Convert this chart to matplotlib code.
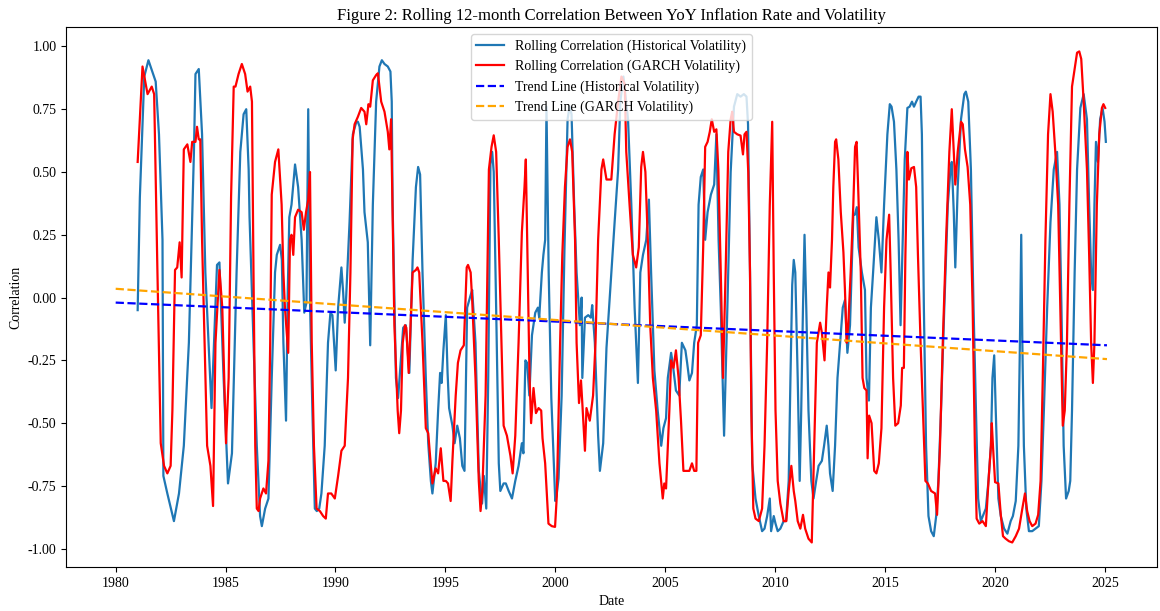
# -*- coding: utf-8 -*-
"""Rolling 12-month correlation between YoY inflation and volatility."""
import matplotlib
matplotlib.use('Agg')
import matplotlib.pyplot as plt

plt.rcParams['font.family'] = ['Liberation Serif', 'DejaVu Serif']

# rolling correlation, historical volatility (decimal year, value)
hist_years = [
    1981.00, 1981.10, 1981.30, 1981.49, 1981.82, 1981.97, 1982.13, 1982.17, 1982.35, 1982.65,
    1982.88, 1983.10, 1983.33, 1983.56, 1983.63, 1983.78, 1983.93, 1984.08, 1984.36, 1984.61,
    1984.72, 1984.91, 1985.11, 1985.29, 1985.50, 1985.67, 1985.82, 1985.94, 1986.05, 1986.09,
    1986.27, 1986.42, 1986.57, 1986.65, 1986.80, 1986.95, 1987.10, 1987.25, 1987.33, 1987.48,
    1987.56, 1987.63, 1987.75, 1987.83, 1987.90, 1988.00, 1988.16, 1988.30, 1988.46, 1988.58,
    1988.68, 1988.76, 1988.84, 1988.95, 1989.06, 1989.15, 1989.26, 1989.36, 1989.51, 1989.66,
    1989.77, 1989.86, 1990.01, 1990.12, 1990.27, 1990.35, 1990.42, 1990.49, 1990.64, 1990.79,
    1990.95, 1991.02, 1991.10, 1991.25, 1991.32, 1991.47, 1991.58, 1991.70, 1991.85, 1992.00,
    1992.11, 1992.23, 1992.38, 1992.50, 1992.56, 1992.60, 1992.75, 1992.85, 1993.08, 1993.20,
    1993.36, 1993.51, 1993.66, 1993.76, 1993.85, 1993.96, 1994.11, 1994.22, 1994.34, 1994.41,
    1994.56, 1994.67, 1994.76, 1994.83, 1994.91, 1995.02, 1995.10, 1995.17, 1995.32, 1995.42,
    1995.54, 1995.66, 1995.77, 1995.87, 1995.99, 1996.15, 1996.22, 1996.37, 1996.52, 1996.67,
    1996.75, 1996.86, 1996.95, 1997.05, 1997.13, 1997.20, 1997.31, 1997.43, 1997.50, 1997.65,
    1997.75, 1997.88, 1998.03, 1998.18, 1998.33, 1998.48, 1998.55, 1998.64, 1998.72, 1998.82,
    1998.94, 1999.09, 1999.21, 1999.27, 1999.39, 1999.46, 1999.54, 1999.60, 1999.70, 1999.82,
    2000.00, 2000.07, 2000.15, 2000.29, 2000.42, 2000.56, 2000.65, 2000.74, 2000.86, 2000.97,
    2001.12, 2001.20, 2001.23, 2001.35, 2001.50, 2001.62, 2001.68, 2001.80, 2001.95, 2002.03,
    2002.18, 2002.33, 2002.55, 2002.70, 2002.86, 2002.96, 2003.10, 2003.31, 2003.46, 2003.61,
    2003.76, 2003.87, 2003.99, 2004.14, 2004.26, 2004.36, 2004.51, 2004.66, 2004.82, 2004.92,
    2005.04, 2005.12, 2005.27, 2005.34, 2005.49, 2005.64, 2005.76, 2005.92, 2006.00, 2006.10,
    2006.22, 2006.32, 2006.44, 2006.52, 2006.62, 2006.73, 2006.82, 2006.93, 2007.08, 2007.23,
    2007.33, 2007.43, 2007.53, 2007.68, 2007.83, 2007.98, 2008.13, 2008.28, 2008.43, 2008.58,
    2008.70, 2008.77, 2008.86, 2008.96, 2009.11, 2009.26, 2009.41, 2009.52, 2009.64, 2009.76,
    2009.82, 2009.94, 2010.02, 2010.12, 2010.24, 2010.39, 2010.50, 2010.62, 2010.70, 2010.78,
    2010.85, 2010.92, 2011.03, 2011.12, 2011.19, 2011.27, 2011.34, 2011.42, 2011.52, 2011.65,
    2011.75, 2011.87, 2011.98, 2012.13, 2012.23, 2012.35, 2012.43, 2012.50, 2012.62, 2012.73,
    2012.84, 2012.96, 2013.08, 2013.18, 2013.29, 2013.41, 2013.48, 2013.56, 2013.63, 2013.72,
    2013.80, 2013.95, 2014.09, 2014.16, 2014.27, 2014.36, 2014.46, 2014.61, 2014.72, 2014.84,
    2014.96, 2015.11, 2015.22, 2015.30, 2015.41, 2015.52, 2015.62, 2015.71, 2015.80, 2015.90,
    2016.02, 2016.12, 2016.23, 2016.32, 2016.42, 2016.53, 2016.62, 2016.68, 2016.77, 2016.87,
    2016.98, 2017.10, 2017.22, 2017.33, 2017.43, 2017.55, 2017.70, 2017.86, 2017.98, 2018.04,
    2018.13, 2018.20, 2018.31, 2018.46, 2018.61, 2018.68, 2018.79, 2018.91, 2019.03, 2019.14,
    2019.24, 2019.36, 2019.59, 2019.71, 2019.82, 2019.89, 2019.97, 2020.04, 2020.16, 2020.27,
    2020.42, 2020.57, 2020.72, 2020.82, 2020.95, 2021.07, 2021.14, 2021.20, 2021.25, 2021.32,
    2021.43, 2021.55, 2021.70, 2021.85, 2022.00, 2022.12, 2022.23, 2022.38, 2022.53, 2022.68,
    2022.83, 2022.94, 2023.03, 2023.13, 2023.24, 2023.36, 2023.43, 2023.51, 2023.63, 2023.74,
    2023.89, 2024.04, 2024.19, 2024.29, 2024.38, 2024.46, 2024.53, 2024.60, 2024.69, 2024.79,
    2024.90, 2024.99, 2025.05,
]
hist_corr = [
    -0.05, 0.40, 0.88, 0.945, 0.86, 0.65, 0.23, -0.71, -0.78, -0.89,
    -0.78, -0.59, -0.18, 0.58, 0.89, 0.91, 0.65, 0.10, -0.44, 0.13,
    0.14, -0.32, -0.74, -0.62, 0.10, 0.58, 0.73, 0.75, 0.51, 0.32,
    -0.18, -0.59, -0.87, -0.91, -0.84, -0.80, -0.32, 0.10, 0.17, 0.21,
    0.15, -0.18, -0.49, 0.03, 0.32, 0.37, 0.53, 0.44, 0.23, -0.06,
    -0.02, 0.75, -0.01, -0.45, -0.84, -0.85, -0.84, -0.78, -0.59, -0.18,
    -0.06, -0.07, -0.29, -0.04, 0.12, 0.02, -0.10, 0.01, 0.30, 0.65,
    0.70, 0.70, 0.68, 0.51, 0.34, 0.22, -0.19, 0.37, 0.78, 0.92,
    0.945, 0.93, 0.92, 0.90, 0.78, 0.37, -0.32, -0.40, -0.12, -0.11,
    -0.30, 0.15, 0.44, 0.52, 0.49, 0.10, -0.32, -0.58, -0.73, -0.78,
    -0.66, -0.45, -0.30, -0.34, -0.21, -0.07, -0.30, -0.44, -0.51, -0.58,
    -0.51, -0.56, -0.67, -0.69, -0.04, 0.01, 0.03, -0.18, -0.69, -0.82,
    -0.71, -0.84, -0.32, 0.53, 0.58, 0.50, -0.04, -0.66, -0.77, -0.74,
    -0.74, -0.77, -0.80, -0.73, -0.67, -0.58, -0.62, -0.25, -0.26, -0.39,
    -0.15, -0.06, -0.04, -0.08, 0.10, 0.17, 0.23, 0.76, 0.10, -0.40,
    -0.81, -0.78, -0.72, -0.39, 0.20, 0.71, 0.76, 0.73, 0.37, 0.10,
    -0.11, 0.00, -0.32, -0.08, -0.07, -0.08, -0.03, -0.18, -0.55, -0.69,
    -0.58, -0.20, 0.10, 0.30, 0.51, 0.78, 0.88, 0.71, 0.37, -0.04,
    -0.34, 0.10, 0.17, 0.23, 0.39, 0.10, -0.29, -0.45, -0.59, -0.52,
    -0.48, -0.32, -0.22, -0.26, -0.37, -0.39, -0.18, -0.21, -0.26, -0.33,
    -0.30, -0.18, -0.11, 0.37, 0.48, 0.51, 0.23, 0.34, 0.41, 0.45,
    0.65, 0.23, -0.04, -0.55, -0.04, 0.50, 0.76, 0.81, 0.80, 0.81,
    0.80, 0.69, 0.10, -0.66, -0.80, -0.87, -0.93, -0.92, -0.87, -0.80,
    -0.93, -0.87, -0.90, -0.93, -0.92, -0.89, -0.89, -0.73, -0.32, 0.05,
    0.15, 0.10, -0.32, -0.73, -0.45, -0.04, 0.25, -0.04, -0.45, -0.73,
    -0.80, -0.73, -0.67, -0.65, -0.59, -0.51, -0.59, -0.70, -0.77, -0.59,
    -0.32, -0.18, -0.04, -0.01, -0.22, -0.11, 0.10, 0.33, 0.33, 0.36,
    0.20, 0.10, 0.03, -0.32, -0.41, -0.04, 0.10, 0.32, 0.23, 0.10,
    0.37, 0.65, 0.77, 0.76, 0.70, 0.51, 0.23, -0.11, 0.20, 0.55,
    0.755, 0.76, 0.78, 0.76, 0.78, 0.80, 0.80, 0.65, -0.04, -0.59,
    -0.87, -0.93, -0.95, -0.87, -0.73, -0.45, -0.04, 0.37, 0.51, 0.54,
    0.34, 0.12, 0.44, 0.71, 0.81, 0.82, 0.78, 0.51, -0.04, -0.45,
    -0.80, -0.89, -0.84, -0.73, -0.59, -0.32, -0.23, -0.45, -0.80, -0.87,
    -0.92, -0.94, -0.89, -0.87, -0.81, -0.59, -0.18, 0.25, -0.18, -0.59,
    -0.84, -0.93, -0.93, -0.92, -0.91, -0.73, -0.45, -0.04, 0.30, 0.51,
    0.58, 0.37, -0.04, -0.59, -0.80, -0.77, -0.73, -0.45, 0.10, 0.51,
    0.755, 0.81, 0.71, 0.37, 0.10, 0.03, 0.37, 0.62, 0.54, 0.71,
    0.755, 0.70, 0.62,
]

# rolling correlation, GARCH volatility (decimal year, value)
garch_years = [
    1981.00, 1981.22, 1981.45, 1981.64, 1981.75, 1981.90, 1982.05, 1982.20, 1982.35, 1982.50,
    1982.58, 1982.70, 1982.80, 1982.91, 1983.00, 1983.10, 1983.26, 1983.40, 1983.48, 1983.63,
    1983.70, 1983.78, 1983.85, 1983.93, 1984.16, 1984.31, 1984.43, 1984.54, 1984.72, 1984.85,
    1985.02, 1985.14, 1985.25, 1985.37, 1985.45, 1985.59, 1985.74, 1985.89, 1986.00, 1986.12,
    1986.20, 1986.27, 1986.35, 1986.42, 1986.50, 1986.57, 1986.72, 1986.84, 1986.95, 1987.03,
    1987.10, 1987.25, 1987.40, 1987.55, 1987.63, 1987.70, 1987.85, 1987.93, 1988.00, 1988.08,
    1988.16, 1988.30, 1988.46, 1988.56, 1988.66, 1988.76, 1988.84, 1988.92, 1989.02, 1989.14,
    1989.29, 1989.44, 1989.56, 1989.66, 1989.81, 1989.97, 1990.12, 1990.27, 1990.42, 1990.57,
    1990.68, 1990.78, 1990.87, 1991.02, 1991.17, 1991.32, 1991.40, 1991.50, 1991.58, 1991.70,
    1991.85, 1991.93, 1992.08, 1992.23, 1992.38, 1992.45, 1992.53, 1992.68, 1992.83, 1992.90,
    1992.98, 1993.06, 1993.16, 1993.22, 1993.33, 1993.51, 1993.66, 1993.73, 1993.81, 1993.96,
    1994.11, 1994.22, 1994.34, 1994.41, 1994.56, 1994.67, 1994.79, 1994.91, 1995.02, 1995.12,
    1995.24, 1995.32, 1995.47, 1995.57, 1995.69, 1995.84, 1995.97, 1996.03, 1996.15, 1996.22,
    1996.37, 1996.52, 1996.60, 1996.68, 1996.83, 1996.98, 1997.10, 1997.20, 1997.31, 1997.43,
    1997.55, 1997.65, 1997.80, 1997.96, 1998.06, 1998.18, 1998.33, 1998.48, 1998.60, 1998.66,
    1998.75, 1998.83, 1998.90, 1999.01, 1999.12, 1999.24, 1999.36, 1999.42, 1999.54, 1999.69,
    1999.84, 1999.99, 2000.07, 2000.22, 2000.32, 2000.44, 2000.56, 2000.67, 2000.77, 2000.90,
    2000.97, 2001.08, 2001.17, 2001.23, 2001.35, 2001.42, 2001.57, 2001.72, 2001.83, 2001.95,
    2002.10, 2002.18, 2002.33, 2002.55, 2002.70, 2002.86, 2003.01, 2003.16, 2003.23, 2003.38,
    2003.53, 2003.68, 2003.80, 2003.91, 2003.99, 2004.10, 2004.21, 2004.32, 2004.44, 2004.59,
    2004.74, 2004.89, 2004.96, 2005.04, 2005.19, 2005.27, 2005.38, 2005.49, 2005.61, 2005.72,
    2005.83, 2005.98, 2006.10, 2006.22, 2006.32, 2006.42, 2006.50, 2006.62, 2006.73, 2006.82,
    2006.93, 2007.03, 2007.12, 2007.23, 2007.33, 2007.42, 2007.53, 2007.63, 2007.75, 2007.87,
    2007.98, 2008.05, 2008.13, 2008.28, 2008.43, 2008.54, 2008.61, 2008.70, 2008.78, 2008.86,
    2008.92, 2009.01, 2009.11, 2009.26, 2009.41, 2009.52, 2009.64, 2009.76, 2009.87, 2009.94,
    2010.02, 2010.12, 2010.24, 2010.39, 2010.51, 2010.62, 2010.74, 2010.85, 2010.92, 2011.03,
    2011.15, 2011.27, 2011.37, 2011.52, 2011.67, 2011.78, 2011.90, 2012.05, 2012.13, 2012.25,
    2012.35, 2012.43, 2012.50, 2012.59, 2012.65, 2012.73, 2012.78, 2012.88, 2012.99, 2013.11,
    2013.18, 2013.26, 2013.33, 2013.44, 2013.56, 2013.64, 2013.71, 2013.78, 2013.90, 2013.98,
    2014.06, 2014.16, 2014.21, 2014.28, 2014.39, 2014.51, 2014.61, 2014.72, 2014.84, 2014.96,
    2015.07, 2015.19, 2015.26, 2015.37, 2015.47, 2015.60, 2015.72, 2015.78, 2015.86, 2015.93,
    2016.02, 2016.09, 2016.20, 2016.32, 2016.42, 2016.50, 2016.62, 2016.73, 2016.84, 2016.95,
    2017.10, 2017.28, 2017.37, 2017.50, 2017.63, 2017.78, 2017.93, 2018.04, 2018.13, 2018.20,
    2018.31, 2018.46, 2018.54, 2018.64, 2018.76, 2018.88, 2018.99, 2019.09, 2019.17, 2019.29,
    2019.44, 2019.59, 2019.71, 2019.82, 2019.86, 2019.92, 2020.01, 2020.16, 2020.27, 2020.37,
    2020.49, 2020.64, 2020.79, 2020.95, 2021.10, 2021.25, 2021.37, 2021.47, 2021.58, 2021.70,
    2021.85, 2021.97, 2022.08, 2022.18, 2022.30, 2022.42, 2022.53, 2022.63, 2022.75, 2022.88,
    2022.98, 2023.09, 2023.18, 2023.28, 2023.39, 2023.51, 2023.63, 2023.74, 2023.84, 2023.93,
    2024.04, 2024.19, 2024.29, 2024.38, 2024.46, 2024.53, 2024.64, 2024.75, 2024.87, 2024.94,
    2025.02,
]
garch_corr = [
    0.54, 0.92, 0.81, 0.84, 0.81, 0.10, -0.58, -0.67, -0.70, -0.67,
    -0.45, 0.11, 0.12, 0.22, 0.08, 0.59, 0.61, 0.54, 0.62, 0.62,
    0.68, 0.63, 0.63, 0.23, -0.59, -0.67, -0.83, -0.18, 0.11, -0.04,
    -0.58, -0.32, 0.40, 0.84, 0.84, 0.89, 0.93, 0.89, 0.82, 0.84,
    0.78, 0.10, -0.59, -0.84, -0.85, -0.80, -0.76, -0.78, -0.65, -0.18,
    0.41, 0.54, 0.59, 0.37, 0.10, -0.04, -0.22, 0.23, 0.25, 0.17,
    0.32, 0.35, 0.34, 0.27, 0.34, 0.39, 0.50, -0.18, -0.59, -0.84,
    -0.85, -0.87, -0.88, -0.78, -0.78, -0.80, -0.71, -0.61, -0.59, -0.32,
    0.10, 0.63, 0.69, 0.72, 0.755, 0.74, 0.69, 0.77, 0.76, 0.865,
    0.886, 0.893, 0.78, 0.74, 0.66, 0.59, 0.71, -0.11, -0.45, -0.54,
    -0.45, -0.18, -0.11, -0.12, -0.30, 0.10, 0.11, 0.12, 0.10, -0.18,
    -0.52, -0.54, -0.67, -0.74, -0.68, -0.70, -0.60, -0.73, -0.73, -0.74,
    -0.81, -0.65, -0.39, -0.26, -0.21, -0.19, 0.12, 0.13, 0.10, -0.01,
    -0.32, -0.73, -0.85, -0.77, -0.39, 0.51, 0.60, 0.646, 0.58, 0.23,
    -0.18, -0.51, -0.55, -0.63, -0.70, -0.55, -0.18, 0.26, 0.44, 0.55,
    0.10, -0.32, -0.50, -0.36, -0.46, -0.44, -0.45, -0.56, -0.66, -0.90,
    -0.91, -0.913, -0.79, -0.18, 0.17, 0.44, 0.60, 0.63, 0.58, 0.23,
    -0.18, -0.42, -0.33, -0.42, -0.61, -0.44, -0.49, -0.39, -0.18, 0.23,
    0.51, 0.55, 0.47, 0.47, 0.65, 0.78, 0.88, 0.85, 0.58, 0.37,
    0.17, 0.12, 0.20, 0.52, 0.58, 0.50, 0.23, -0.11, -0.32, -0.45,
    -0.66, -0.80, -0.74, -0.76, -0.45, -0.25, -0.28, -0.21, -0.32, -0.49,
    -0.69, -0.69, -0.69, -0.66, -0.69, -0.69, -0.18, -0.15, 0.20, 0.60,
    0.62, 0.66, 0.71, 0.66, 0.67, 0.51, 0.10, -0.32, 0.10, 0.58,
    0.71, 0.74, 0.66, 0.65, 0.645, 0.57, 0.65, 0.66, 0.50, 0.10,
    -0.45, -0.84, -0.88, -0.89, -0.84, -0.59, -0.18, 0.37, 0.70, 0.10,
    -0.45, -0.73, -0.82, -0.89, -0.89, -0.77, -0.67, -0.77, -0.81, -0.89,
    -0.92, -0.865, -0.92, -0.96, -0.975, -0.59, -0.18, -0.10, -0.14, -0.25,
    -0.04, 0.10, 0.04, 0.23, 0.44, 0.62, 0.63, 0.55, 0.34, 0.18,
    0.03, -0.18, -0.11, 0.10, 0.37, 0.60, 0.62, 0.44, 0.10, -0.32,
    -0.36, -0.37, -0.64, -0.47, -0.50, -0.69, -0.70, -0.66, -0.52, -0.04,
    0.23, 0.33, 0.10, -0.32, -0.51, -0.50, -0.43, -0.28, -0.28, 0.17,
    0.58, 0.47, 0.515, 0.52, 0.44, 0.17, -0.18, -0.45, -0.73, -0.74,
    -0.77, -0.78, -0.865, -0.60, -0.18, 0.23, 0.58, 0.75, 0.58, 0.45,
    0.58, 0.70, 0.69, 0.59, 0.52, 0.37, -0.04, -0.59, -0.88, -0.90,
    -0.89, -0.91, -0.73, -0.59, -0.50, -0.60, -0.735, -0.74, -0.865, -0.95,
    -0.96, -0.97, -0.975, -0.95, -0.92, -0.84, -0.78, -0.85, -0.89, -0.91,
    -0.90, -0.865, -0.73, -0.32, 0.23, 0.65, 0.81, 0.74, 0.58, 0.37,
    -0.04, -0.51, -0.45, -0.18, 0.37, 0.84, 0.91, 0.975, 0.98, 0.95,
    0.78, 0.51, 0.17, -0.18, -0.34, -0.18, 0.37, 0.65, 0.755, 0.77,
    0.755,
]

# linear trend lines (end points)
trend_years = [1980.0, 2025.1]
hist_trend = [-0.02, -0.19]
garch_trend = [0.035, -0.245]

title = 'Figure 2: Rolling 12-month Correlation Between YoY Inflation Rate and Volatility'


def make_plot():
    """Draw the correlation chart and save it"""
    fig = plt.figure(figsize=(11.6, 6.11), dpi=100)
    ax = fig.add_axes([0.057, 0.072, 0.940, 0.884])

    ax.plot(hist_years, hist_corr, color='#1f77b4', lw=1.6,
            label='Rolling Correlation (Historical Volatility)')
    ax.plot(garch_years, garch_corr, color='red', lw=1.6,
            label='Rolling Correlation (GARCH Volatility)')
    ax.plot(trend_years, hist_trend, color='blue', ls='--', lw=1.6,
            label='Trend Line (Historical Volatility)')
    ax.plot(trend_years, garch_trend, color='orange', ls='--', lw=1.6,
            label='Trend Line (GARCH Volatility)')

    ax.set_xticks(range(1980, 2026, 5))
    ax.set_yticks([-1.0, -0.75, -0.5, -0.25, 0.0, 0.25, 0.5, 0.75, 1.0])
    ax.yaxis.set_major_formatter(plt.FormatStrFormatter('%.2f'))
    ax.tick_params(labelsize=10)

    ax.set_title(title, fontsize=12, pad=5)
    ax.set_xlabel('Date', fontsize=10)
    ax.set_ylabel('Correlation', fontsize=10)
    ax.legend(loc='upper center', fontsize=10)

    fig.savefig('out.png', dpi=100)


if __name__ == '__main__':
    make_plot()
